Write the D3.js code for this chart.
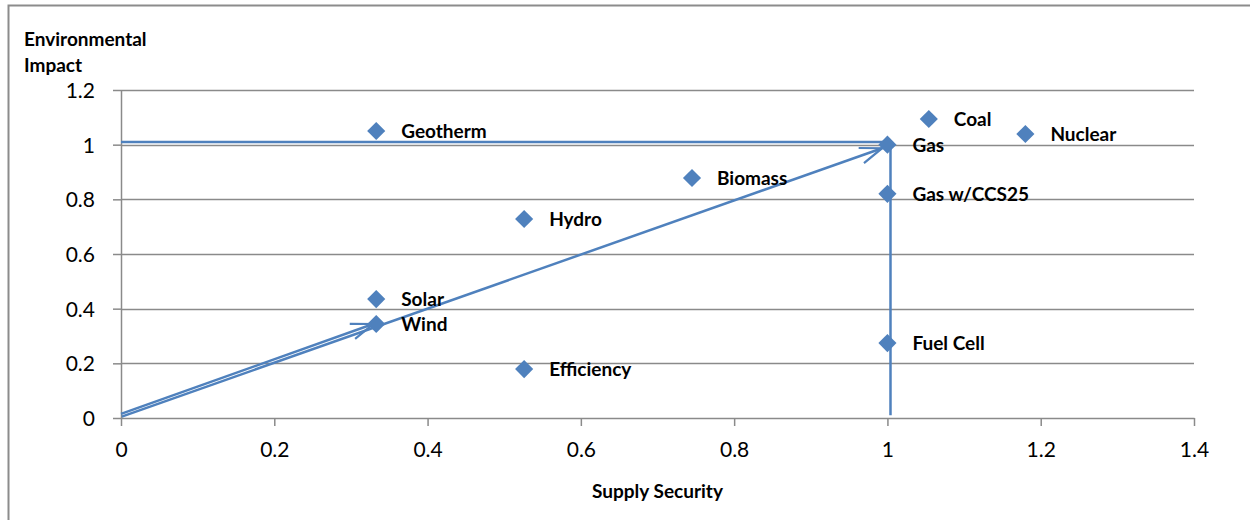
<!DOCTYPE html>
<html>
<head>
<meta charset="utf-8">
<script src="https://cdn.jsdelivr.net/npm/d3@7"></script>
<style>
  body { margin: 0; background: #fff; }
  text { font-family: Lato, "Open Sans", sans-serif; }
</style>
</head>
<body>
<div class="chart"></div>
<script>
var svgWidth = 1250;
var svgHeight = 520;

var margin = { top: 90, right: 56, bottom: 102, left: 121 };
var width = svgWidth - margin.left - margin.right;
var height = svgHeight - margin.top - margin.bottom;

// technology points: supply security (x) vs environmental impact (y)
var techNames = ["Geotherm", "Coal", "Nuclear", "Gas", "Biomass", "Gas w/CCS25", "Hydro", "Solar", "Wind", "Efficiency", "Fuel Cell"];
var supplyValues = [0.333, 1.054, 1.18, 1.0, 0.745, 1.0, 0.526, 0.333, 0.333, 0.526, 1.0];
var impactValues = [1.05, 1.094, 1.039, 1.0, 0.878, 0.82, 0.728, 0.435, 0.344, 0.179, 0.274];

var xTicks = [0, 0.2, 0.4, 0.6, 0.8, 1, 1.2, 1.4];
var yTicks = [0, 0.2, 0.4, 0.6, 0.8, 1, 1.2];

// annotation lines [x1, y1, x2, y2, arrow]
var arrowLines = [
  [0, 0.015, 0.329, 0.344, true],
  [0.001, 0.005, 0.993, 0.987, true],
  [0, 1.01, 1.0, 1.01, false],
  [1.004, 0.01, 1.004, 1.0, false]
];

var blue = "#4f81bd";
var labelSize = "19px";

var svg = d3.select(".chart")
  .append("svg")
  .attr("width", svgWidth)
  .attr("height", svgHeight);

// outer chart border (runs off the page on the right and bottom)
svg.append("rect")
  .attr("x", 8.5)
  .attr("y", 5.5)
  .attr("width", 1300)
  .attr("height", 600)
  .attr("fill", "none")
  .attr("stroke", "#8c8c8c")
  .attr("stroke-width", 2);

var chart = svg.append("g")
  .attr("transform", "translate(" + margin.left + "," + margin.top + ")");

var xScale = d3.scaleLinear().domain([0, 1.4]).range([0, width]);
var yScale = d3.scaleLinear().domain([0, 1.2]).range([height, 0]);

// horizontal gridlines
chart.selectAll(".grid")
  .data(yTicks.filter(function(d) { return d > 0; }))
  .enter().append("line")
  .attr("x1", 0)
  .attr("x2", width)
  .attr("y1", function(d) { return Math.round(yScale(d)) + 0.5; })
  .attr("y2", function(d) { return Math.round(yScale(d)) + 0.5; })
  .attr("stroke", "#8a8a8a")
  .attr("stroke-width", 1.5);

var bottomAxis = d3.axisBottom(xScale)
  .tickValues(xTicks)
  .tickFormat(function(d) { return d3.format("")(+d.toFixed(1)); })
  .tickSize(8)
  .tickPadding(16)
  .tickSizeOuter(0);

var leftAxis = d3.axisLeft(yScale)
  .tickValues(yTicks)
  .tickFormat(function(d) { return d3.format("")(+d.toFixed(1)); })
  .tickSize(8)
  .tickPadding(18)
  .tickSizeOuter(0);

var gx = chart.append("g")
  .attr("transform", "translate(0," + height + ")")
  .call(bottomAxis);

var gy = chart.append("g")
  .call(leftAxis);

[gx, gy].forEach(function(g) {
  g.select(".domain").attr("stroke", "#8a8a8a").attr("stroke-width", 1.5);
  g.selectAll(".tick line").attr("stroke", "#8a8a8a").attr("stroke-width", 1.5);
  g.selectAll(".tick text")
    .attr("fill", "#000")
    .style("font-size", "21px")
    .style("font-family", "Lato, 'Open Sans', sans-serif");
});
gy.selectAll(".tick text").attr("dy", "0.35em");

// open arrowhead
svg.append("defs").append("marker")
  .attr("id", "arrow")
  .attr("viewBox", "-24 -10 26 20")
  .attr("refX", 0)
  .attr("refY", 0)
  .attr("markerWidth", 26)
  .attr("markerHeight", 20)
  .attr("markerUnits", "userSpaceOnUse")
  .attr("orient", "auto")
  .append("path")
  .attr("d", "M-22,-8 L0,0 L-22,8")
  .attr("fill", "none")
  .attr("stroke", blue)
  .attr("stroke-width", 2.2);

chart.selectAll(".annot")
  .data(arrowLines)
  .enter().append("line")
  .attr("x1", function(d) { return xScale(d[0]); })
  .attr("y1", function(d) { return yScale(d[1]); })
  .attr("x2", function(d) { return xScale(d[2]); })
  .attr("y2", function(d) { return yScale(d[3]); })
  .attr("stroke", blue)
  .attr("stroke-width", 2.5)
  .attr("marker-end", function(d) { return d[4] ? "url(#arrow)" : null; });

// diamonds
var diamond = d3.symbol().type(d3.symbolDiamond2).size(210);

chart.selectAll(".pt")
  .data(techNames)
  .enter().append("path")
  .attr("d", diamond)
  .attr("transform", function(d, i) {
    return "translate(" + xScale(supplyValues[i]) + "," + yScale(impactValues[i]) + ")";
  })
  .attr("fill", blue);

chart.selectAll(".lbl")
  .data(techNames)
  .enter().append("text")
  .attr("x", function(d, i) { return xScale(supplyValues[i]) + 25; })
  .attr("y", function(d, i) { return yScale(impactValues[i]) + 7; })
  .style("font-size", labelSize)
  .style("font-weight", "bold")
  .attr("fill", "#000")
  .text(function(d) { return d; });

// axis titles
svg.append("text")
  .attr("x", 24)
  .attr("y", 46)
  .style("font-size", labelSize)
  .style("font-weight", "bold")
  .text("Environmental");

svg.append("text")
  .attr("x", 24)
  .attr("y", 72)
  .style("font-size", labelSize)
  .style("font-weight", "bold")
  .text("Impact");

svg.append("text")
  .attr("x", margin.left + width / 2)
  .attr("y", 498)
  .attr("text-anchor", "middle")
  .style("font-size", labelSize)
  .style("font-weight", "bold")
  .text("Supply Security");
</script>
</body>
</html>
